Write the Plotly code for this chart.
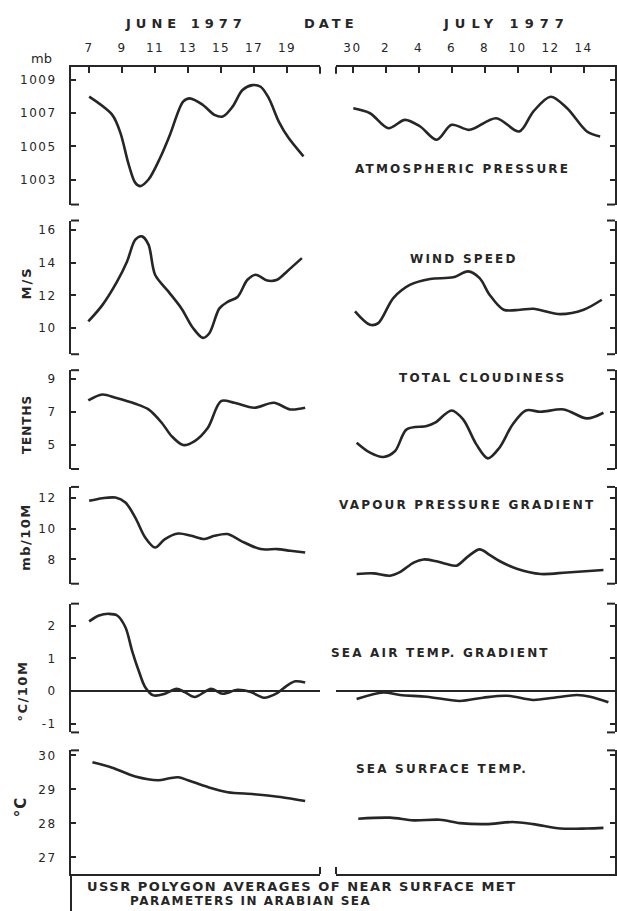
import plotly.graph_objects as go

# ---------------- data ----------------
# x for June panels: day of June; x for July panels: day of July (0 = 30 June)
june_ticks = [7, 9, 11, 13, 15, 17, 19]
june_ticktext = ["7", "9", "11", "13", "15", "17", "19"]
july_ticks = [0, 2, 4, 6, 8, 10, 12, 14]
july_ticktext = ["30", "2", "4", "6", "8", "10", "12", "14"]

pressure_june_days = [7.0, 8.4, 8.9, 9.4, 9.8, 10.1, 10.6, 11.3, 11.9, 12.7, 13.1, 13.9, 14.6, 15.1, 15.7, 16.3, 16.9, 17.4, 17.9, 18.5, 19.1, 20.0]
pressure_june = [1008.0, 1006.9, 1005.8, 1003.9, 1002.8, 1002.6, 1003.0, 1004.3, 1005.7, 1007.7, 1007.9, 1007.5, 1006.9, 1006.8, 1007.4, 1008.4, 1008.7, 1008.6, 1007.9, 1006.5, 1005.5, 1004.4]
pressure_july_days = [0.05, 1.06, 2.17, 3.18, 4.1, 5.1, 6.0, 7.1, 8.7, 10.1, 10.95, 12.0, 13.0, 14.2, 15.0]
pressure_july = [1007.3, 1007.0, 1006.1, 1006.6, 1006.2, 1005.4, 1006.3, 1006.0, 1006.7, 1005.9, 1007.1, 1008.0, 1007.3, 1005.9, 1005.6]

wind_june_days = [6.95, 7.8, 8.7, 9.3, 9.8, 10.2, 10.6, 11.0, 11.8, 12.6, 13.3, 13.9, 14.3, 14.9, 15.4, 16.0, 16.6, 17.1, 17.8, 18.4, 19.0, 19.9]
wind_june = [10.4, 11.4, 12.85, 14.07, 15.4, 15.6, 15.1, 13.26, 12.24, 11.2, 10.0, 9.4, 9.7, 11.2, 11.6, 11.9, 12.95, 13.26, 12.9, 12.95, 13.46, 14.27]
wind_july_days = [0.15, 1.06, 1.56, 2.47, 3.5, 4.7, 6.1, 7.0, 7.7, 8.3, 9.15, 10.15, 10.95, 12.6, 14.0, 15.1]
wind_july = [11.02, 10.2, 10.3, 11.83, 12.65, 13.0, 13.1, 13.46, 13.05, 12.04, 11.12, 11.12, 11.18, 10.85, 11.12, 11.73]

cloud_june_days = [6.95, 7.8, 8.6, 9.8, 10.6, 11.4, 12.0, 12.7, 13.4, 14.2, 15.0, 15.8, 17.0, 18.2, 19.2, 20.1]
cloud_june = [7.68, 8.04, 7.84, 7.48, 7.14, 6.34, 5.54, 5.0, 5.24, 6.04, 7.64, 7.54, 7.24, 7.54, 7.14, 7.24]
cloud_july_days = [0.25, 1.06, 1.87, 2.58, 3.28, 4.5, 5.0, 6.0, 6.7, 7.5, 8.2, 8.9, 9.7, 10.5, 11.4, 12.8, 14.2, 15.2]
cloud_july = [5.14, 4.54, 4.28, 4.64, 5.94, 6.14, 6.34, 7.08, 6.54, 5.04, 4.2, 4.84, 6.24, 7.08, 7.0, 7.14, 6.6, 6.94]

vapour_june_days = [7.0, 7.8, 8.6, 9.2, 9.8, 10.4, 11.0, 11.6, 12.4, 13.2, 14.0, 14.6, 15.4, 16.2, 17.4, 18.4, 19.2, 20.1]
vapour_june = [11.79, 11.96, 12.0, 11.68, 10.71, 9.42, 8.77, 9.32, 9.68, 9.53, 9.32, 9.53, 9.64, 9.2, 8.67, 8.67, 8.56, 8.45]
vapour_july_days = [0.25, 1.26, 2.27, 2.9, 3.7, 4.3, 5.0, 5.7, 6.3, 7.0, 7.7, 8.3, 8.9, 9.95, 11.4, 13.0, 15.2]
vapour_july = [7.06, 7.1, 6.95, 7.2, 7.8, 8.0, 7.9, 7.7, 7.6, 8.2, 8.65, 8.3, 7.9, 7.4, 7.06, 7.16, 7.32]

seaair_june_days = [7.0, 7.6, 8.2, 8.7, 9.2, 9.6, 10.0, 10.4, 10.9, 11.6, 12.3, 12.8, 13.4, 14.4, 15.1, 16.0, 16.8, 17.6, 18.4, 19.0, 19.5, 20.1]
seaair_june = [2.13, 2.31, 2.36, 2.31, 1.95, 1.24, 0.63, 0.12, -0.13, -0.08, 0.07, -0.03, -0.18, 0.07, -0.08, 0.04, -0.03, -0.2, -0.06, 0.17, 0.3, 0.26]
seaair_july_days = [0.25, 1.87, 2.88, 4.5, 6.5, 7.9, 9.35, 10.95, 12.2, 13.6, 14.4, 15.5]
seaair_july = [-0.24, -0.04, -0.12, -0.17, -0.3, -0.2, -0.14, -0.27, -0.2, -0.12, -0.17, -0.34]

sst_june_days = [7.2, 8.4, 9.8, 11.2, 11.8, 12.4, 13.0, 14.2, 15.4, 17.0, 18.6, 20.1]
sst_june = [29.8, 29.64, 29.38, 29.27, 29.32, 29.36, 29.27, 29.07, 28.92, 28.86, 28.78, 28.66]
sst_july_days = [0.35, 2.27, 3.7, 5.3, 6.5, 8.1, 9.7, 10.95, 12.6, 14.2, 15.2]
sst_july = [28.14, 28.17, 28.09, 28.11, 28.01, 27.98, 28.04, 27.98, 27.85, 27.85, 27.87]

panel_names = ["ATMOSPHERIC PRESSURE", "WIND SPEED", "TOTAL CLOUDINESS",
               "VAPOUR PRESSURE GRADIENT", "SEA AIR TEMP. GRADIENT", "SEA SURFACE TEMP."]
y_ticks = [[1003, 1005, 1007, 1009], [10, 12, 14, 16], [5, 7, 9], [8, 10, 12], [-1, 0, 1, 2], [27, 28, 29, 30]]
y_ticktext = [["1003", "1005", "1007", "1009"], ["10", "12", "14", "16"], ["5", "7", "9"],
              ["8", "10", "12"], ["-1", "0", "1", "2"], ["27", "28", "29", "30"]]
y_ranges = [[1001.49, 1009.8], [8.40, 16.57], [3.56, 9.5], [6.43, 12.69], [-1.26, 2.67], [26.51, 30.15]]

series = [
    (pressure_june_days, pressure_june, pressure_july_days, pressure_july),
    (wind_june_days, wind_june, wind_july_days, wind_july),
    (cloud_june_days, cloud_june, cloud_july_days, cloud_july),
    (vapour_june_days, vapour_june, vapour_july_days, vapour_july),
    (seaair_june_days, seaair_june, seaair_july_days, seaair_july),
    (sst_june_days, sst_june, sst_july_days, sst_july),
]

# ---------------- layout geometry (pixels) ----------------
W, H = 617, 911
INK = "#262626"
FONT = "DejaVu Sans"
LEFT_X = (71, 320)
RIGHT_X = (336, 615)
june_range = [5.9, 21.0]
july_range = [-1.0, 15.9]
panel_px = [(65, 203), (219, 353), (369, 468), (486, 583), (603, 732), (750, 874)]


def fx(p):
    return p / W


def fy(p):
    return 1 - p / H


def sp(text, ls):
    return f'<span style="letter-spacing:{ls}px">{text}</span>'


fig = go.Figure()
layout = {}
shapes = []
tickfont = dict(family=FONT, size=12, color=INK)

for r in range(6):
    top, bot = panel_px[r]
    for c in range(2):
        idx = r * 2 + c + 1
        xn = "x" if idx == 1 else f"x{idx}"
        yn = "y" if idx == 1 else f"y{idx}"
        xk = "xaxis" if idx == 1 else f"xaxis{idx}"
        yk = "yaxis" if idx == 1 else f"yaxis{idx}"
        dom = LEFT_X if c == 0 else RIGHT_X
        xs = series[r][0] if c == 0 else series[r][2]
        ys = series[r][1] if c == 0 else series[r][3]
        fig.add_trace(go.Scatter(x=xs, y=ys, xaxis=xn, yaxis=yn, mode="lines",
                                 line=dict(color=INK, width=2.6, shape="spline", smoothing=0.9),
                                 showlegend=False, hoverinfo="skip"))
        xa = dict(domain=[fx(dom[0]), fx(dom[1])], range=june_range if c == 0 else july_range,
                  anchor=yn, showgrid=False, zeroline=False, fixedrange=True)
        if r == 0:
            xa.update(side="top", showline=True, linecolor=INK, linewidth=2, ticks="inside",
                      ticklen=6, tickwidth=2, tickcolor=INK,
                      tickvals=june_ticks if c == 0 else july_ticks,
                      ticktext=[sp(t, 1.5) for t in (june_ticktext if c == 0 else july_ticktext)],
                      tickfont=tickfont, ticklabelstandoff=8)
        elif r == 5:
            xa.update(side="bottom", showline=True, linecolor=INK, linewidth=2, ticks="",
                      showticklabels=False)
        else:
            xa.update(visible=False)
        ya = dict(domain=[fy(bot), fy(top)], range=y_ranges[r], anchor=xn, showgrid=False,
                  fixedrange=True, showline=True, linecolor=INK, linewidth=2,
                  ticks="inside", ticklen=5, tickwidth=2, tickcolor=INK,
                  tickvals=y_ticks[r], ticktext=[sp(t, 1.5) for t in y_ticktext[r]],
                  zeroline=(r == 4), zerolinecolor=INK, zerolinewidth=1.6)
        if c == 0:
            ya.update(side="left", tickfont=tickfont, ticklabelstandoff=10)
        else:
            ya.update(side="right", showticklabels=False)
        layout[xk] = xa
        layout[yk] = ya

    # bracket ends of each y axis
    for ypx in (top, bot):
        if (r == 0 and ypx == top) or (r == 5 and ypx == bot):
            continue
        shapes.append(dict(type="line", xref="paper", yref="paper", x0=fx(LEFT_X[0]), x1=fx(LEFT_X[0] + 8),
                           y0=fy(ypx), y1=fy(ypx), line=dict(color=INK, width=2)))
        shapes.append(dict(type="line", xref="paper", yref="paper", x0=fx(RIGHT_X[1]), x1=fx(RIGHT_X[1] - 8),
                           y0=fy(ypx), y1=fy(ypx), line=dict(color=INK, width=2)))

# break marks on top and bottom date axes
for xpx in (LEFT_X[1], RIGHT_X[0]):
    shapes.append(dict(type="line", xref="paper", yref="paper", x0=fx(xpx), x1=fx(xpx),
                       y0=fy(65), y1=fy(72), line=dict(color=INK, width=2)))
    shapes.append(dict(type="line", xref="paper", yref="paper", x0=fx(xpx), x1=fx(xpx),
                       y0=fy(874), y1=fy(867), line=dict(color=INK, width=2)))
# left frame line continuing below the bottom axis
shapes.append(dict(type="line", xref="paper", yref="paper", x0=fx(LEFT_X[0]), x1=fx(LEFT_X[0]),
                   y0=fy(874), y1=fy(911), line=dict(color=INK, width=2)))

annotations = []


def ann(text, xpx, ypx, size=12, xanchor="center", angle=0, bold=True):
    annotations.append(dict(text=(f"<b>{text}</b>" if bold else text), xref="paper", yref="paper",
                            x=fx(xpx), y=fy(ypx), xanchor=xanchor, yanchor="middle",
                            showarrow=False, textangle=angle,
                            font=dict(family=FONT, size=size, color=INK)))


# header
ann(sp("JUNE 1977", 5), 186, 22, size=13)
ann(sp("DATE", 4), 331, 22, size=13)
ann(sp("JULY 1977", 6), 506, 22, size=13)

# panel names
name_pos = [(462, 167), (464, 258), (482, 377), (467, 504), (440, 652), (442, 769)]
for name, (px_, py_) in zip(panel_names, name_pos):
    ann(sp(name, 2.2), px_, py_, size=12)

# unit titles
ann("mb", 42, 57, size=13, bold=False)
ann(sp("M/S", 2), 26, 282, size=13, angle=-90)
ann(sp("TENTHS", 1), 27, 424, size=12, angle=-90)
ann(sp("mb/10M", 1.5), 26, 536, size=13, angle=-90)
ann(sp("°C/10M", 1.5), 22, 691, size=13, angle=-90)
ann(sp("°C", 1), 21, 806, size=15, angle=-90)

# caption
ann(sp("USSR POLYGON AVERAGES OF NEAR SURFACE MET", 1.5), 85, 886, size=13, xanchor="left")
ann(sp("PARAMETERS IN ARABIAN SEA", 1.5), 128, 901, size=12, xanchor="left")

fig.update_layout(width=W, height=H, margin=dict(l=0, r=0, t=0, b=0),
                  paper_bgcolor="white", plot_bgcolor="rgba(0,0,0,0)",
                  showlegend=False, shapes=shapes, annotations=annotations, **layout)

fig.write_html("out.html", config={"displayModeBar": False})
